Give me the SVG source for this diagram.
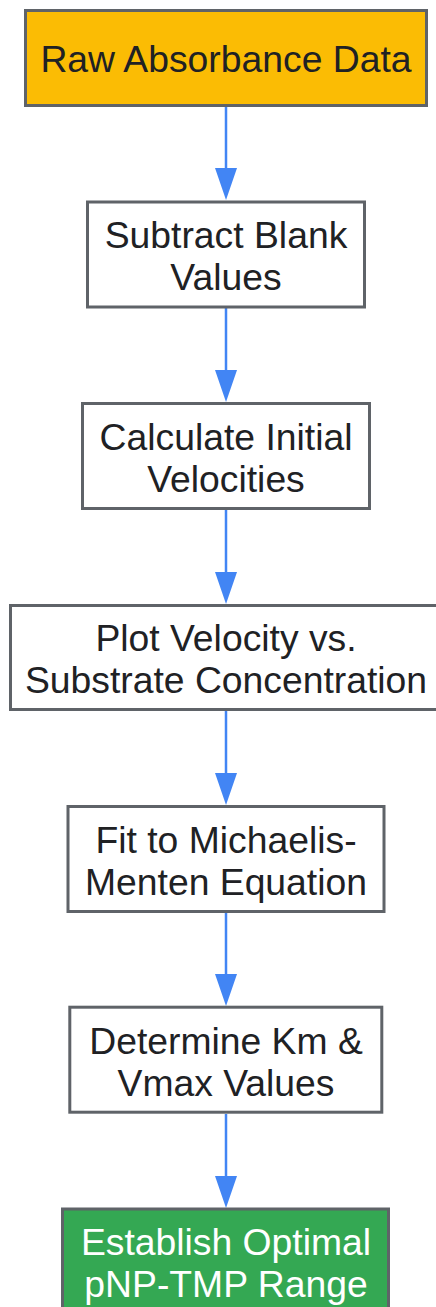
<svg xmlns="http://www.w3.org/2000/svg" width="436" height="1307" viewBox="0 0 436 1307">
<style>
.box{fill:#ffffff;stroke:#5f6368;stroke-width:3}
.t{font-family:"Liberation Sans",Arial,sans-serif;font-size:37.3px;fill:#202124;text-anchor:middle}
.w{fill:#ffffff}
.edge{stroke:#4285f4;stroke-width:2.5;fill:none}
</style>
<defs>
<marker id="ah" markerUnits="userSpaceOnUse" markerWidth="34" markerHeight="24" refX="0" refY="11" orient="auto">
<path d="M0,0 L32,11 L0,22 z" fill="#4285f4"/>
</marker>
</defs>
<rect width="436" height="1307" fill="#ffffff"/>
<g id="connectors">
<line class="edge" x1="226" y1="107" x2="226" y2="168" marker-end="url(#ah)"/>
<line class="edge" x1="226" y1="308" x2="226" y2="370" marker-end="url(#ah)"/>
<line class="edge" x1="226" y1="510" x2="226" y2="572" marker-end="url(#ah)"/>
<line class="edge" x1="226" y1="711" x2="226" y2="773" marker-end="url(#ah)"/>
<line class="edge" x1="226" y1="913" x2="226" y2="974" marker-end="url(#ah)"/>
<line class="edge" x1="226" y1="1114" x2="226" y2="1176" marker-end="url(#ah)"/>
</g>
<g id="raw">
<rect class="box" x="25.5" y="10.5" width="401" height="95" style="fill:#fbbc04"/>
<text class="t" x="226" y="72">Raw Absorbance Data</text>
</g>
<g id="subtract">
<rect class="box" x="87.5" y="202" width="277" height="105"/>
<text class="t" x="226" y="248">Subtract Blank</text>
<text class="t" x="226" y="290">Values</text>
</g>
<g id="calculate">
<rect class="box" x="82.5" y="403.5" width="287" height="105"/>
<text class="t" x="226" y="449.5">Calculate Initial</text>
<text class="t" x="226" y="491.5">Velocities</text>
</g>
<g id="plot">
<rect class="box" x="10.5" y="605.5" width="431" height="104"/>
<text class="t" x="226" y="651">Plot Velocity vs.</text>
<text class="t" x="226" y="693">Substrate Concentration</text>
</g>
<g id="fit">
<rect class="box" x="68" y="806.5" width="316" height="105"/>
<text class="t" x="226" y="852.5">Fit to Michaelis-</text>
<text class="t" x="226" y="894.5">Menten Equation</text>
</g>
<g id="determine">
<rect class="box" x="69.8" y="1007.2" width="312" height="105"/>
<text class="t" x="226" y="1053.5">Determine Km &amp;</text>
<text class="t" x="226" y="1095.5">Vmax Values</text>
</g>
<g id="establish">
<rect class="box" x="62.5" y="1209" width="326" height="105" style="fill:#34a853"/>
<text class="t w" x="226" y="1255">Establish Optimal</text>
<text class="t w" x="226" y="1296.5">pNP-TMP Range</text>
</g>
</svg>
